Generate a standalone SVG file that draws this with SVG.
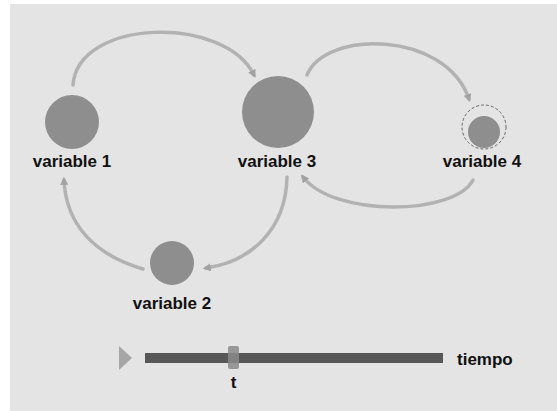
<svg xmlns="http://www.w3.org/2000/svg" width="557" height="411" viewBox="0 0 557 411">
<style>
.node{fill:#8e8e8e}
.lbl{font-family:"Liberation Sans",Arial,sans-serif;font-weight:bold;font-size:17px;fill:#111;text-anchor:middle}
.arc{fill:none;stroke:#b2b2b2;stroke-width:3.5;stroke-linecap:round;marker-end:url(#ah)}
</style>
<defs>
<marker id="ah" viewBox="0 0 10 10" refX="6" refY="5" markerWidth="2.3" markerHeight="2.3" orient="auto" markerUnits="strokeWidth">
<path d="M0,0 L10,5 L0,10 Z" fill="#a2a2a2"/>
</marker>
</defs>
<rect x="0" y="0" width="557" height="411" fill="#ffffff"/>
<rect x="10" y="4" width="547" height="407" fill="#e4e4e4"/>
<g id="connectors">
<path class="arc" d="M73,85 C78,18 225,15 254,75"/>
<path class="arc" d="M307,75 C325,30 445,30 469,99"/>
<path class="arc" d="M473,180 C455,215 335,218 303,177"/>
<path class="arc" d="M287,177 C286,230 250,262 206,268"/>
<path class="arc" d="M143,269 C95,255 66,225 64,180"/>
</g>
<g id="variable1">
<circle class="node" cx="72" cy="122" r="27"/>
<text class="lbl" x="72" y="167">variable 1</text>
</g>
<g id="variable3">
<circle class="node" cx="278" cy="112" r="36"/>
<text class="lbl" x="277" y="167">variable 3</text>
</g>
<g id="variable4">
<circle cx="484" cy="127" r="22" fill="none" stroke="#666" stroke-width="1" stroke-dasharray="3,2"/>
<circle class="node" cx="484" cy="132" r="16"/>
<text class="lbl" x="482" y="167">variable 4</text>
</g>
<g id="variable2">
<circle class="node" cx="172" cy="263" r="22"/>
<text class="lbl" x="172" y="309">variable 2</text>
</g>
<g id="timeline">
<path d="M119,346 L132,358 L119,370 Z" fill="#a6a6a6"/>
<rect x="145" y="353" width="298" height="10" fill="#575757"/>
<rect x="228" y="346" width="11" height="23" rx="2" fill="#8a8a8a" fill-opacity="0.85"/>
<text class="lbl" x="233.5" y="388">t</text>
<text class="lbl" x="457" y="365" style="text-anchor:start">tiempo</text>
</g>
</svg>
